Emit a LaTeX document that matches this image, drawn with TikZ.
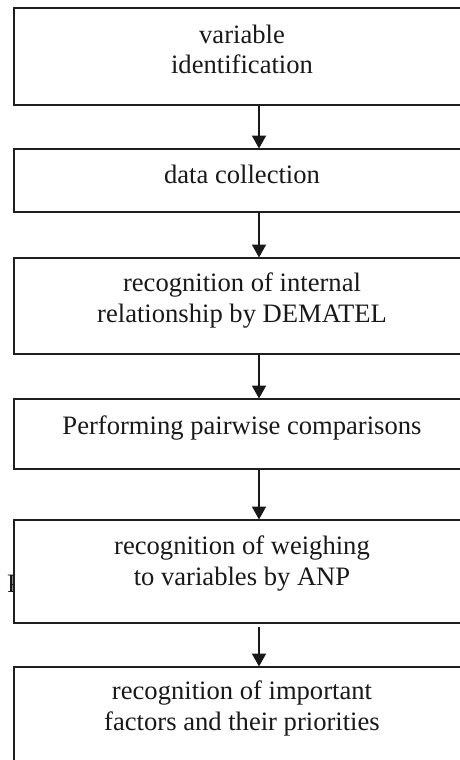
\documentclass[tikz,border=0pt]{standalone}
\usepackage{fontspec}
\setmainfont{Liberation Serif}
\usetikzlibrary{arrows.meta}
\begin{document}
\begin{tikzpicture}[x=1pt,y=-1pt,
  stepbox/.style={draw=black!88, line width=2.1pt, fill=white, rectangle, anchor=north west, minimum width=459pt, inner sep=0pt},
  lbl/.style={anchor=base, align=center, inner sep=0pt, text=black!90, font=\fontsize{26.6}{30.5}\selectfont},
  arr/.style={draw=black!90, line width=2.1pt, -{Triangle[width=14pt,length=13pt]}, shorten >=-0.5pt}
]
\useasboundingbox (0,0) rectangle (460,760);
\begin{scope}
\clip (0,0) rectangle (460,760);
% stray glyph partly hidden by box 5
\node[lbl, anchor=base west] (stray) at (6.8,592) {P};
\node[stepbox, minimum height=97pt] (b1) at (12.5,7) {};
\node[stepbox, minimum height=63pt] (b2) at (12.5,148) {};
\node[stepbox, minimum height=96pt] (b3) at (12.5,257) {};
\node[stepbox, minimum height=70pt] (b4) at (12.5,398) {};
\node[stepbox, minimum height=103pt] (b5) at (12.5,519) {};
\node[stepbox, minimum height=110pt] (b6) at (12.5,666) {};

\node[lbl] (t1) at (242,74) {variable\\identification};
\node[lbl] (t2) at (242,183) {data collection};
\node[lbl] (t3) at (242,322) {recognition of internal\\relationship by DEMATEL};
\node[lbl] (t4) at (242,434) {Performing pairwise comparisons};
\node[lbl] (t5) at (242,585) {recognition of weighing\\to variables by ANP};
\node[lbl] (t6) at (242,730) {recognition of important\\factors and their priorities};

\draw[arr] ([xshift=246.5pt]b1.south west) -- ([xshift=246.5pt]b2.north west);
\draw[arr] ([xshift=246.5pt]b2.south west) -- ([xshift=246.5pt]b3.north west);
\draw[arr] ([xshift=246.5pt]b3.south west) -- ([xshift=246.5pt]b4.north west);
\draw[arr] ([xshift=246.5pt]b4.south west) -- ([xshift=246.5pt]b5.north west);
\draw[arr] ([xshift=246.5pt,yshift=-3pt]b5.south west) -- ([xshift=246.5pt]b6.north west);
\end{scope}
\end{tikzpicture}
\end{document}
